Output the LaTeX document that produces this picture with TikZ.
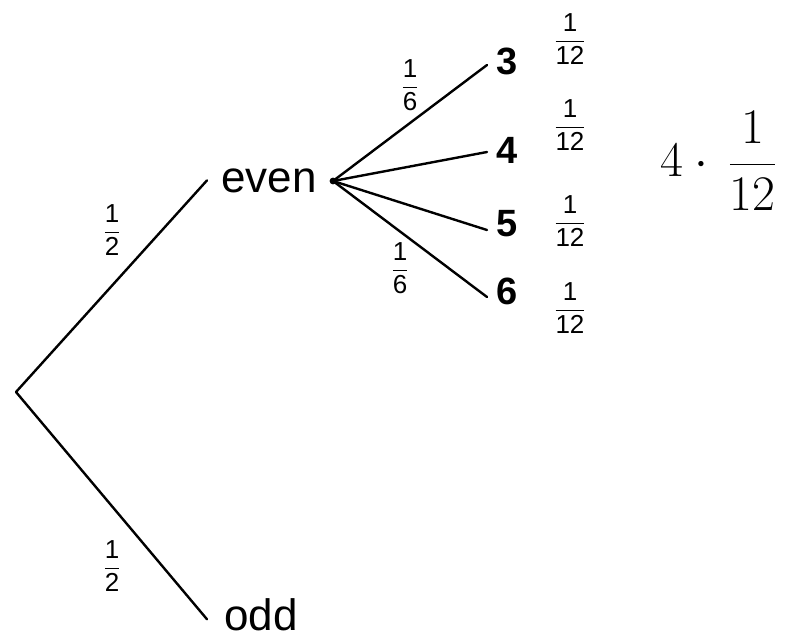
\documentclass[tikz,border=0pt]{standalone}
\usepackage{fontspec}
\setsansfont{Liberation Sans}
\newcommand{\sfr}[2]{\ensuremath{\displaystyle\frac{\mbox{#1}}{\mbox{#2}}}}
\tikzset{
  branch/.style={line width=1.2pt, line cap=round},
  word/.style={font=\sffamily\fontsize{22}{25}\selectfont, inner sep=0pt},
  outcome/.style={font=\sffamily\bfseries\fontsize{19}{22}\selectfont, inner sep=0pt, anchor=west},
  prob/.style={font=\sffamily\fontsize{13}{15}\selectfont, inner sep=0pt},
}
\begin{document}
\begin{tikzpicture}[x=0.5pt,y=-0.5pt]
\useasboundingbox (0,0) rectangle (794,637);
\coordinate (root) at (16,392);
\node[word, anchor=base west] (even) at (221,192) {even};
\node[word, anchor=base west] (odd) at (224,630) {odd};
\coordinate (evenpt) at (333,181);
\node[outcome] (n3) at (496,61) {3};
\node[outcome] (n4) at (496,150) {4};
\node[outcome] (n5) at (496,224) {5};
\node[outcome] (n6) at (496,291) {6};
\draw[branch] (root) -- ([xshift=-7pt]even.west);
\draw[branch] (root) -- ([xshift=-8.5pt,yshift=-2.5pt]odd.west);
\fill (evenpt) circle (1.7pt);
\draw[branch] (evenpt) -- ([xshift=-4.5pt,yshift=-2pt]n3.west);
\draw[branch] (evenpt) -- ([xshift=-4.5pt,yshift=-1pt]n4.west);
\draw[branch] (evenpt) -- ([xshift=-4.5pt,yshift=-3pt]n5.west);
\draw[branch] (evenpt) -- ([xshift=-4.5pt,yshift=-3pt]n6.west);
\node[prob] (p2a) at (112,230) {\sfr{1}{2}};
\node[prob] (p2b) at (112,566) {\sfr{1}{2}};
\node[prob] (p6a) at (410,85) {\sfr{1}{6}};
\node[prob] (p6b) at (400,268) {\sfr{1}{6}};
\node[prob] (p12a) at (570,39) {\sfr{1}{12}};
\node[prob] (p12b) at (570,125) {\sfr{1}{12}};
\node[prob] (p12c) at (570,221) {\sfr{1}{12}};
\node[prob] (p12d) at (570,308) {\sfr{1}{12}};
\node[font=\fontsize{27}{32}\selectfont, inner sep=0pt, anchor=west] (total) at (660,161) {$\displaystyle 4\cdot\mkern3mu\frac{1}{12}$};
\end{tikzpicture}
\end{document}
